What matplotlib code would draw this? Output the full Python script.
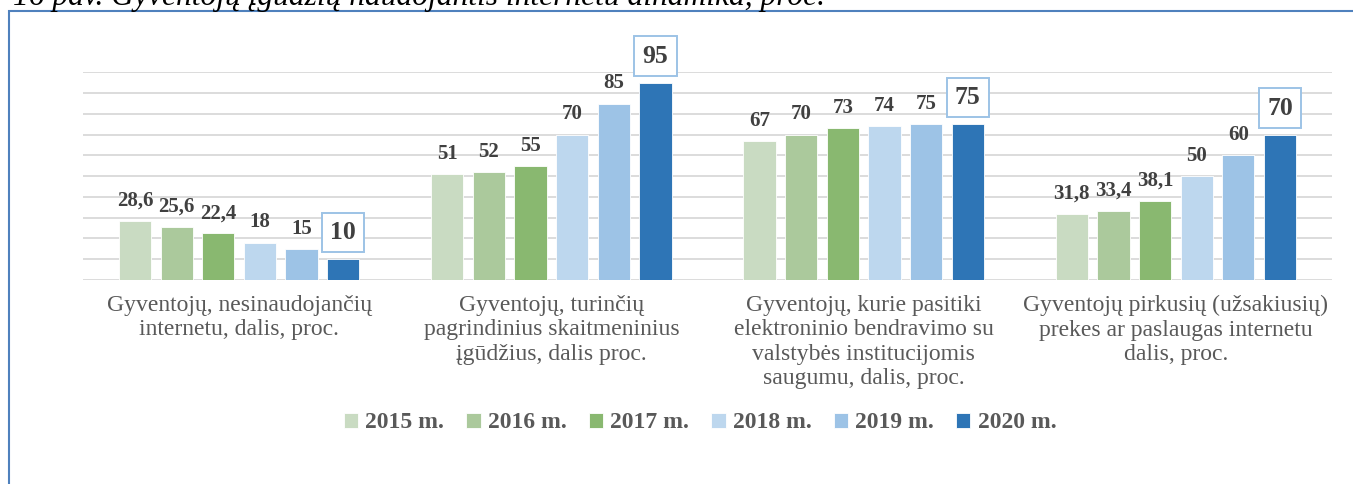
import matplotlib
matplotlib.use("Agg")
import matplotlib.pyplot as plt
import matplotlib.patches as mpatches
import numpy as np

categories = [
    "Gyventojų, nesinaudojančių\ninternetu, dalis, proc.",
    "Gyventojų, turinčių\npagrindinius skaitmeninius\nįgūdžius, dalis proc.",
    "Gyventojų, kurie pasitiki\nelektroninio bendravimo su\nvalstybės institucijomis\nsaugumu, dalis, proc.",
    "Gyventojų pirkusių (užsakiusių)\nprekes ar paslaugas internetu\ndalis, proc.",
]
years = ["2015 m.", "2016 m.", "2017 m.", "2018 m.", "2019 m.", "2020 m."]
v2015 = [28.6, 51, 67, 31.8]
v2016 = [25.6, 52, 70, 33.4]
v2017 = [22.4, 55, 73, 38.1]
v2018 = [18, 70, 74, 50]
v2019 = [15, 85, 75, 60]
v2020 = [10, 95, 75, 70]
labels2015 = ["28,6", "51", "67", "31,8"]
labels2016 = ["25,6", "52", "70", "33,4"]
labels2017 = ["22,4", "55", "73", "38,1"]
labels2018 = ["18", "70", "74", "50"]
labels2019 = ["15", "85", "75", "60"]
labels2020 = ["10", "95", "75", "70"]
title = "16 pav. Gyventojų įgūdžių naudojantis internetu dinamika, proc."

series = [v2015, v2016, v2017, v2018, v2019, v2020]
series_labels = [labels2015, labels2016, labels2017, labels2018, labels2019, labels2020]
colors = ["#C9DBC2", "#ABC99C", "#89B870", "#BDD7EE", "#9DC3E6", "#2E75B6"]

W, H = 1353, 484
fig = plt.figure(figsize=(W / 100, H / 100), dpi=100)
ax = fig.add_axes([83 / W, 1 - 280 / H, (1332 - 83) / W, (280 - 72.4) / H])

serif = ["Liberation Serif", "DejaVu Serif"]
x = np.arange(len(categories))
step = 0.1333
bw = 0.103
for i, (vals, labs, col, yr) in enumerate(zip(series, series_labels, colors, years)):
    xs = x + (i - 2.5) * step
    ax.bar(xs, vals, width=bw, color=col, label=yr, zorder=3, edgecolor="white", linewidth=0.6)
    for xi, v, lab in zip(xs, vals, labs):
        if i == 5:
            ax.annotate(lab, (xi, v), xytext=(0, 14.5), textcoords="offset points",
                        ha="center", va="baseline", fontsize=18.5, fontweight="bold",
                        family=serif, color="#404040", zorder=5,
                        bbox=dict(boxstyle="square,pad=0.32", fc="white", ec="#9DC3E6", lw=1.4))
        else:
            ax.annotate(lab, (xi, v), xytext=(0, 11), textcoords="offset points",
                        ha="center", va="baseline", fontsize=15, fontweight="bold",
                        family=serif, color="#404040", zorder=5)

ax.set_xlim(-0.5, 3.5)
ax.set_ylim(0, 100)
ax.set_yticks(np.arange(0, 101, 10))
ax.yaxis.grid(True, color="#D9D9D9", linewidth=1.3, zorder=0)
ax.set_axisbelow(True)
ax.tick_params(axis="y", left=False, labelleft=False)
ax.set_xticks(x)
ax.set_xticklabels(categories, fontsize=17, family=serif, color="#595959", linespacing=1.2)
ax.tick_params(axis="x", length=0, pad=11)
for s in ax.spines.values():
    s.set_visible(False)

leg = fig.legend(loc="center", bbox_to_anchor=(700 / W, 1 - 423 / H), ncol=6, frameon=False,
                 prop={"family": serif, "weight": "bold", "size": 17},
                 handlelength=0.6, handleheight=0.6, handletextpad=0.3, columnspacing=0.95)
for t in leg.get_texts():
    t.set_color("#595959")

# outer frame
fig.patches.append(mpatches.Rectangle((9 / W, -0.2), 1.3, 1.2 - 10.5 / H,
                                      transform=fig.transFigure, fill=False,
                                      edgecolor="#4F81BD", linewidth=1.5, clip_on=False))

fig.text(13 / W, 1 - 4.5 / H, title, family=serif, style="italic", fontsize=22.7,
         color="black", va="baseline", ha="left")

fig.savefig("out.png", dpi=100)
